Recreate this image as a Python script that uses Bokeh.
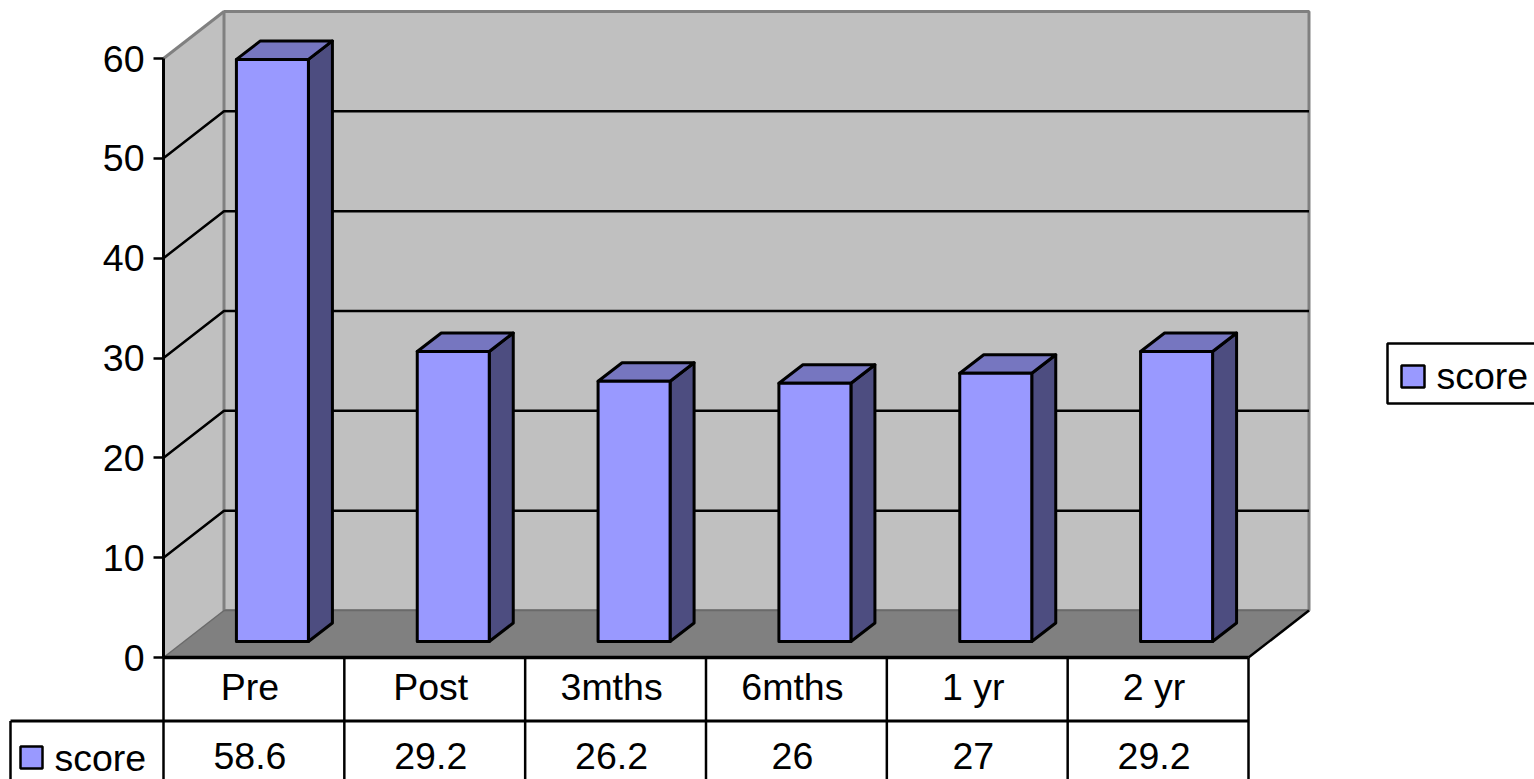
from bokeh.embed import file_html
from bokeh.resources import INLINE
from bokeh.plotting import figure
from bokeh.models import ColumnDataSource, LinearAxis, FixedTicker, Range1d
from bokeh.core.properties import value

categories = ["Pre", "Post", "3mths", "6mths", "1 yr", "2 yr"]
scores = [58.6, 29.2, 26.2, 26, 27, 29.2]
score_labels = ["58.6", "29.2", "26.2", "26", "27", "29.2"]
y_ticks = [0, 10, 20, 30, 40, 50, 60]
series_name = "score"

WIDTH, HEIGHT = 1534, 779
FONT = "Liberation Sans"
FONT_SIZE = "37.5px"

# Page layout in pixels: where the front axes sit and how far the box recedes.
ORIGIN_X, ORIGIN_Y = 163, 657
CAT_PX = 1085 / 6
VAL_PX = 599 / 60
DEPTH_X, DEPTH_Y = 60.5 / CAT_PX, 47 / VAL_PX

WALL = "#C0C0C0"
EDGE = "#808080"
FLOOR = "#808080"
BAR_FRONT = "#9999FF"
BAR_TOP = "#7676C0"
BAR_SIDE = "#4D4D80"


def cx(px):
    return (px - ORIGIN_X) / CAT_PX


def vy(px):
    return (ORIGIN_Y - px) / VAL_PX


n = len(categories)
y_max = max(y_ticks)

p = figure(
    width=WIDTH, height=HEIGHT,
    x_range=Range1d(cx(0), cx(WIDTH)), y_range=Range1d(vy(HEIGHT), vy(0)),
    output_backend="svg", toolbar_location=None,
    min_border=0, min_border_left=0, min_border_right=0, min_border_top=0, min_border_bottom=0,
    outline_line_color=None, background_fill_color="white", border_fill_color="white",
    x_axis_type=None, y_axis_type=None,
)
p.grid.visible = False

# Side wall and back wall
p.patch([0, DEPTH_X, DEPTH_X, 0], [0, DEPTH_Y, y_max + DEPTH_Y, y_max],
        fill_color=WALL, line_color=None)
p.patch([DEPTH_X, n + DEPTH_X, n + DEPTH_X, DEPTH_X],
        [DEPTH_Y, DEPTH_Y, y_max + DEPTH_Y, y_max + DEPTH_Y],
        fill_color=WALL, line_color=EDGE, line_width=3)
p.line([0, DEPTH_X], [y_max, y_max + DEPTH_Y], line_color=EDGE, line_width=3)

# Gridlines running around the side wall and along the back wall
inner = [t for t in y_ticks if 0 < t < y_max]
p.multi_line([[0, DEPTH_X, n + DEPTH_X] for _ in inner],
             [[t, t + DEPTH_Y, t + DEPTH_Y] for t in inner],
             line_color="black", line_width=2.5)

# Floor
p.patch([0, n, n + DEPTH_X, DEPTH_X], [0, 0, DEPTH_Y, DEPTH_Y],
        fill_color=FLOOR, line_color=None)
p.line([0, DEPTH_X], [0, DEPTH_Y], line_color="#6A6A6A", line_width=1.5)
p.line([DEPTH_X, n + DEPTH_X], [DEPTH_Y, DEPTH_Y], line_color="#6A6A6A", line_width=1.5)
p.line([n, n + DEPTH_X], [0, DEPTH_Y], line_color="black", line_width=2.5)

# Bars: front face, top and side, each projected from its score
BAR_SHIFT = 18.5 / CAT_PX
BAR_HALF = 36 / CAT_PX
BAR_BASE = 16 / VAL_PX
BAR_DX, BAR_DY = 24 / CAT_PX, 18.5 / VAL_PX
BAR_SCALE = 0.995

fx, fy, tx, ty, sx, sy = [], [], [], [], [], []
for i, v in enumerate(scores):
    x0 = i + 0.5 + BAR_SHIFT - BAR_HALF
    x1 = i + 0.5 + BAR_SHIFT + BAR_HALF
    y0 = BAR_BASE
    y1 = BAR_BASE + v * BAR_SCALE
    fx.append([x0, x1, x1, x0])
    fy.append([y0, y0, y1, y1])
    tx.append([x0, x1, x1 + BAR_DX, x0 + BAR_DX])
    ty.append([y1, y1, y1 + BAR_DY, y1 + BAR_DY])
    sx.append([x1, x1 + BAR_DX, x1 + BAR_DX, x1])
    sy.append([y0, y0 + BAR_DY, y1 + BAR_DY, y1])

for xs, ys, colour in ((sx, sy, BAR_SIDE), (tx, ty, BAR_TOP), (fx, fy, BAR_FRONT)):
    p.patches(xs, ys, fill_color=colour, line_color="black", line_width=3, line_join="round")

# Value axis at the front-left corner of the box
axis = LinearAxis(
    ticker=FixedTicker(ticks=y_ticks), bounds=(0, y_max), fixed_location=0,
    axis_line_color="black", axis_line_width=3,
    major_tick_line_color="black", major_tick_line_width=2.5,
    major_tick_out=10, major_tick_in=0, minor_tick_line_color=None,
    major_label_standoff=9,
    major_label_text_font=FONT, major_label_text_font_size=FONT_SIZE,
    major_label_text_color="black",
)
p.add_layout(axis, "left")

# Data table under the box
row_line = vy(720.5)
page_bottom = vy(HEIGHT + 4)
p.line([0, n], [0, 0], line_color="black", line_width=3.5)
p.line([cx(10), n], [row_line, row_line], line_color="black", line_width=3)
p.multi_line([[i, i] for i in range(n + 1)] + [[cx(10), cx(10)]],
             [[0, page_bottom] for _ in range(n + 1)] + [[row_line, page_bottom]],
             line_color="black", line_width=2.5)

label_x = [i + 0.5 - 4 / CAT_PX for i in range(n)]
table = ColumnDataSource(dict(
    x=label_x, cat=categories, lab=score_labels,
    cat_y=[vy(686.5)] * n, val_y=[vy(755.5)] * n,
))
common = dict(text_font=value(FONT), text_font_size=value(FONT_SIZE), text_color="black",
              text_align="center", text_baseline="middle")
p.text("x", "cat_y", text="cat", source=table, **common)
p.text("x", "val_y", text="lab", source=table, **common)


def legend_key(px0, py0, px1, py1):
    p.patch([cx(px0), cx(px1), cx(px1), cx(px0)], [vy(py0), vy(py0), vy(py1), vy(py1)],
            fill_color=BAR_FRONT, line_color="black", line_width=2.5)


def series_text(px, py):
    p.text([cx(px)], [vy(py)], text=[series_name], text_font=value(FONT),
           text_font_size=value(FONT_SIZE), text_color="black",
           text_align="left", text_baseline="middle")


legend_key(20, 746, 42, 768)
series_text(54, 757)

# Legend box, running off the right edge of the page
p.patch([cx(1387), cx(WIDTH + 10), cx(WIDTH + 10), cx(1387)],
        [vy(343), vy(343), vy(403), vy(403)],
        fill_color="white", line_color="black", line_width=2.5)
legend_key(1401, 365, 1424, 387)
series_text(1436, 375)

open("out.html", "w").write(file_html(p, INLINE))
